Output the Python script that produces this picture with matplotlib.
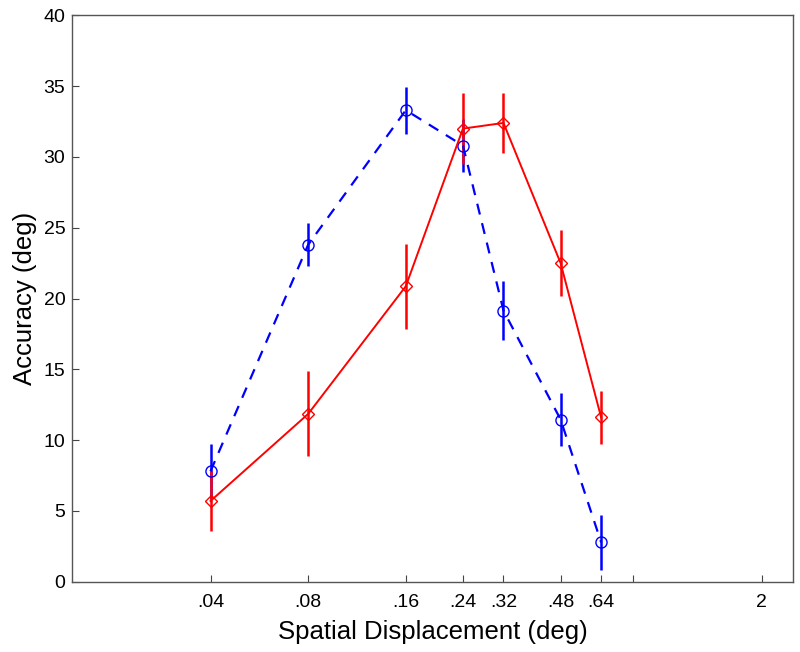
import matplotlib
matplotlib.use("Agg")
import matplotlib.pyplot as plt

plt.rcParams['font.family'] = ['Liberation Sans', 'DejaVu Sans']

displacement = [0.04, 0.08, 0.16, 0.24, 0.32, 0.48, 0.64]
blue_acc = [7.8, 23.8, 33.3, 30.8, 19.15, 11.45, 2.78]
blue_err = [1.95, 1.5, 1.65, 1.9, 2.1, 1.87, 1.92]
red_acc = [5.7, 11.85, 20.87, 32.0, 32.4, 22.5, 11.6]
red_err = [2.1, 3.0, 3.0, 2.5, 2.1, 2.33, 1.85]

xtick_vals = [0.04, 0.08, 0.16, 0.24, 0.32, 0.48, 0.64, 0.8, 2]
xtick_labels = ['.04', '.08', '.16', '.24', '.32', '.48', '.64', '', '2']
ytick_vals = [0, 5, 10, 15, 20, 25, 30, 35, 40]

fig = plt.figure(figsize=(8, 6.52), dpi=100)
ax = fig.add_axes([0.0904, 0.1078, 0.901, 0.8687])

ax.errorbar(displacement, blue_acc, yerr=blue_err, color=(0, 0, 1), ls='--',
            lw=1.6, marker='o', mfc='none', mec=(0, 0, 1), ms=8, mew=1.0,
            elinewidth=1.8, capsize=0, dashes=(5, 4))
ax.errorbar(displacement, red_acc, yerr=red_err, color=(1, 0, 0), ls='-',
            lw=1.4, marker='D', mfc='none', mec=(1, 0, 0), ms=6.5, mew=1.0,
            elinewidth=1.8, capsize=0)

ax.set_xscale('log')
ax.set_xlim(0.015, 2.5)
ax.set_ylim(0, 40)
ax.set_xticks(xtick_vals)
ax.set_xticklabels(xtick_labels)
ax.minorticks_off()
ax.set_yticks(ytick_vals)
ax.tick_params(direction='in', length=5, width=0.8, color='#444444',
               labelsize=14, top=False, right=False)
ax.tick_params(axis='x', pad=9)
ax.tick_params(axis='y', pad=5)
for s in ax.spines.values():
    s.set_color('#555555')
    s.set_linewidth(1.0)

ax.set_xlabel('Spatial Displacement (deg)', fontsize=18.5, va='center')
ax.xaxis.set_label_coords(0.5, -0.089)
ax.set_ylabel('Accuracy (deg)', fontsize=18.5, va='center')
ax.yaxis.set_label_coords(-0.0656, 0.5)

fig.savefig('out.png', dpi=100)
